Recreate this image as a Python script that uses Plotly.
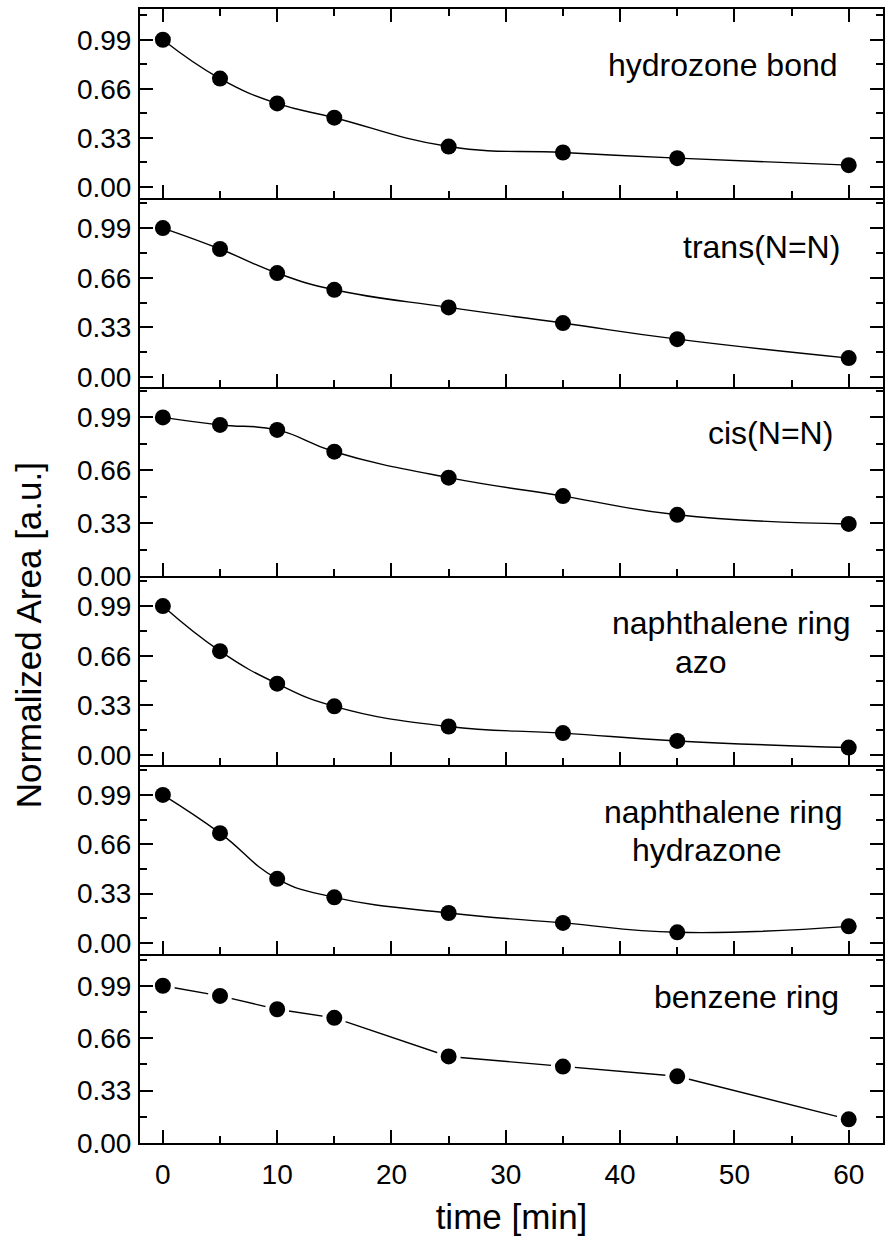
import plotly.graph_objects as go
from plotly.subplots import make_subplots

time_min = [0, 5, 10, 15, 25, 35, 45, 60]

hydrozone_bond = [0.99, 0.729, 0.562, 0.466, 0.272, 0.232, 0.194, 0.147]
trans_nn = [0.99, 0.851, 0.691, 0.580, 0.463, 0.359, 0.252, 0.126]
cis_nn = [0.99, 0.943, 0.912, 0.776, 0.614, 0.499, 0.382, 0.325]
naph_azo = [0.99, 0.690, 0.474, 0.323, 0.189, 0.145, 0.093, 0.049]
naph_hydrazone = [0.99, 0.734, 0.429, 0.305, 0.200, 0.134, 0.071, 0.111]
benzene_ring = [0.99, 0.926, 0.842, 0.788, 0.545, 0.481, 0.420, 0.149]

series = [hydrozone_bond, trans_nn, cis_nn, naph_azo, naph_hydrazone, benzene_ring]
shapes = ["spline", "spline", "spline", "spline", "spline", "linear"]
y_ranges = [[-0.074, 1.197], [-0.066, 1.19], [0.0, 1.18],
            [-0.067, 1.19], [-0.074, 1.19], [0.0, 1.19]]

y_ticks = [0.0, 0.33, 0.66, 0.99]
y_ticktext = ["0.00", "0.33", "0.66", "0.99"]
y_minor = [0.165, 0.495, 0.825, 1.155]
x_ticks = [0, 10, 20, 30, 40, 50, 60]
x_minor = [5, 15, 25, 35, 45, 55]

FONT = "Liberation Sans, Arial, sans-serif"

fig = make_subplots(rows=6, cols=1, shared_xaxes=True, vertical_spacing=0)

for i, ys in enumerate(series):
    r = i + 1
    gap = shapes[i] == "linear"
    fig.add_trace(go.Scatter(
        x=time_min, y=ys, mode="lines+markers",
        line=dict(color="black", width=1.4, shape=shapes[i], smoothing=1.3),
        marker=dict(color="black", size=20 if gap else 16,
                    line=dict(color="white", width=4 if gap else 0)),
        showlegend=False, cliponaxis=False), row=r, col=1)
    fig.update_yaxes(
        range=y_ranges[i], tickvals=y_ticks, ticktext=y_ticktext,
        ticks="inside", ticklen=13, tickwidth=2, tickcolor="black",
        showline=True, linewidth=2, linecolor="black", mirror="ticks",
        showgrid=False, zeroline=False,
        minor=dict(tickvals=y_minor, ticks="inside", ticklen=7, tickwidth=2,
                   tickcolor="black", showgrid=False),
        tickfont=dict(family=FONT, size=28, color="black"),
        ticklabelstandoff=1,
        row=r, col=1)
    fig.update_xaxes(
        range=[-2, 63], tickvals=x_ticks,
        ticks="inside", ticklen=13, tickwidth=2, tickcolor="black",
        showline=True, linewidth=2, linecolor="black",
        mirror="ticks" if r == 1 else False,
        showgrid=False, zeroline=False,
        minor=dict(tickvals=x_minor, ticks="inside", ticklen=7, tickwidth=2,
                   tickcolor="black", showgrid=False),
        showticklabels=(r == 6),
        tickfont=dict(family=FONT, size=28, color="black"),
        ticklabelstandoff=5,
        row=r, col=1)

fig.update_xaxes(title=dict(text="time [min]", font=dict(family=FONT, size=35, color="black"),
                            standoff=16), row=6, col=1)

labels = [
    ("hydrozone bond", 842, 65, "right"),
    ("trans(N=N)", 844, 247, "right"),
    ("cis(N=N)", 837, 433, "right"),
    ("naphthalene ring", 854, 623, "right"),
    ("azo", 703, 662, "center"),
    ("naphthalene ring", 846, 812, "right"),
    ("hydrazone", 708, 850, "center"),
    ("benzene ring", 843, 997, "right"),
]
W, H = 887, 1242
L, R, T, B = 140, 2, 9, 99
for txt, px, py, anchor in labels:
    fig.add_annotation(
        x=(px - L) / (W - L - R), y=1 - (py - T) / (H - T - B),
        xref="paper", yref="paper", text=txt, showarrow=False,
        xanchor=anchor, yanchor="middle",
        font=dict(family=FONT, size=32, color="black"))

fig.add_annotation(
    x=(28 - L) / (W - L - R), y=1 - (635 - T) / (H - T - B),
    xref="paper", yref="paper", text="Normalized Area [a.u.]",
    showarrow=False, textangle=-90, xanchor="center", yanchor="middle",
    font=dict(family=FONT, size=35, color="black"))

fig.update_layout(
    width=W, height=H, margin=dict(l=L, r=R, t=T, b=B),
    paper_bgcolor="white", plot_bgcolor="white",
    font=dict(family=FONT, color="black"))

fig.write_html("out.html")
